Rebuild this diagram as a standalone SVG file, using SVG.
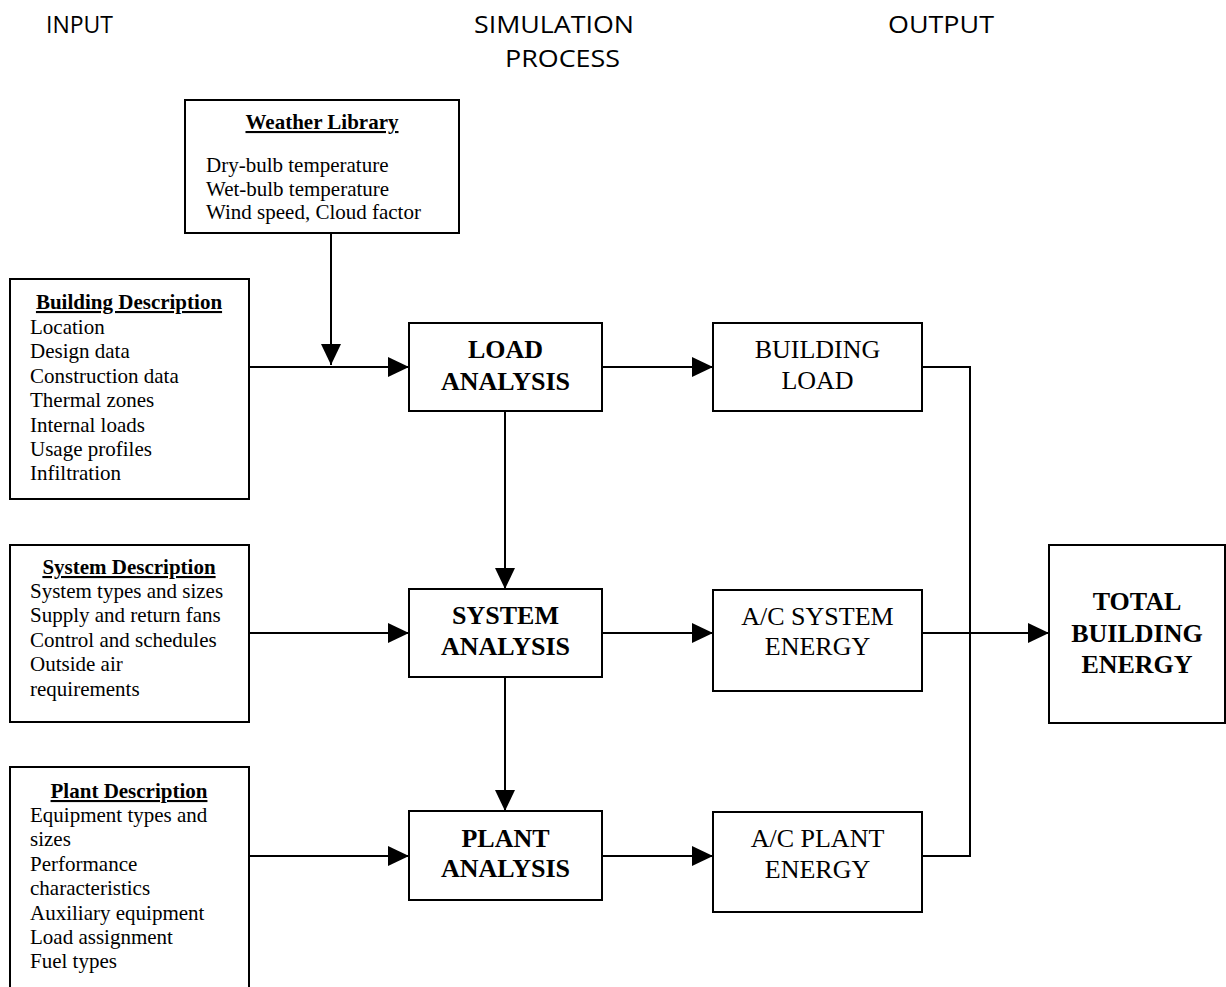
<svg xmlns="http://www.w3.org/2000/svg" width="1226" height="987" viewBox="0 0 1226 987">
<style>
.hdr{font-family:"Open Sans","Liberation Sans",sans-serif;font-size:24px;fill:#000}
.box{fill:#fff;stroke:#000;stroke-width:2}
.t{font-family:"Liberation Serif","Times New Roman",serif;font-size:21px;fill:#000}
.ttl{font-family:"Liberation Serif","Times New Roman",serif;font-size:21px;font-weight:bold;fill:#000;text-anchor:middle;text-decoration:underline}
.big{font-family:"Liberation Serif","Times New Roman",serif;font-size:26px;font-weight:bold;fill:#000;text-anchor:middle}
.reg{font-family:"Liberation Serif","Times New Roman",serif;font-size:26px;fill:#000;text-anchor:middle}
.c{fill:none;stroke:#000;stroke-width:2}
</style>
<defs>
<marker id="ah" markerUnits="userSpaceOnUse" markerWidth="21" markerHeight="20" refX="21" refY="10" orient="auto">
<path d="M0,0 L21,10 L0,20 Z" fill="#000"/>
</marker>
</defs>
<rect width="1226" height="987" fill="#fff"/>
<g id="headers">
<text class="hdr" x="46" y="33" textLength="67" lengthAdjust="spacingAndGlyphs">INPUT</text>
<text class="hdr" x="474" y="33" textLength="160" lengthAdjust="spacingAndGlyphs">SIMULATION</text>
<text class="hdr" x="505" y="67" textLength="115" lengthAdjust="spacingAndGlyphs">PROCESS</text>
<text class="hdr" x="888" y="33" textLength="106" lengthAdjust="spacingAndGlyphs">OUTPUT</text>
</g>
<g id="connectors">
<line class="c" x1="331" y1="234" x2="331" y2="365" marker-end="url(#ah)"/>
<line class="c" x1="249" y1="367" x2="409" y2="367" marker-end="url(#ah)"/>
<line class="c" x1="249" y1="633" x2="409" y2="633" marker-end="url(#ah)"/>
<line class="c" x1="249" y1="856" x2="409" y2="856" marker-end="url(#ah)"/>
<line class="c" x1="505" y1="411" x2="505" y2="589" marker-end="url(#ah)"/>
<line class="c" x1="505" y1="677" x2="505" y2="811" marker-end="url(#ah)"/>
<line class="c" x1="602" y1="367" x2="713" y2="367" marker-end="url(#ah)"/>
<line class="c" x1="602" y1="633" x2="713" y2="633" marker-end="url(#ah)"/>
<line class="c" x1="602" y1="856" x2="713" y2="856" marker-end="url(#ah)"/>
<polyline class="c" points="922,367 970,367 970,856 922,856"/>
<line class="c" x1="922" y1="633" x2="1049" y2="633" marker-end="url(#ah)"/>
</g>
<g id="weather">
<rect class="box" x="185" y="100" width="274" height="133"/>
<text class="ttl" x="322" y="129">Weather Library</text>
<text class="t" x="206" y="172">Dry-bulb temperature</text>
<text class="t" x="206" y="195.5">Wet-bulb temperature</text>
<text class="t" x="206" y="219">Wind speed, Cloud factor</text>
</g>
<g id="building-description">
<rect class="box" x="10" y="279" width="239" height="220"/>
<text class="ttl" x="129" y="309">Building Description</text>
<text class="t" x="30" y="334">Location</text>
<text class="t" x="30" y="358.4">Design data</text>
<text class="t" x="30" y="382.8">Construction data</text>
<text class="t" x="30" y="407.2">Thermal zones</text>
<text class="t" x="30" y="431.6">Internal loads</text>
<text class="t" x="30" y="456">Usage profiles</text>
<text class="t" x="30" y="480.4">Infiltration</text>
</g>
<g id="system-description">
<rect class="box" x="10" y="545" width="239" height="177"/>
<text class="ttl" x="129" y="574">System Description</text>
<text class="t" x="30" y="598">System types and sizes</text>
<text class="t" x="30" y="622.4">Supply and return fans</text>
<text class="t" x="30" y="646.8">Control and schedules</text>
<text class="t" x="30" y="671.2">Outside air</text>
<text class="t" x="30" y="695.6">requirements</text>
</g>
<g id="plant-description">
<rect class="box" x="10" y="767" width="239" height="240"/>
<text class="ttl" x="129" y="798">Plant Description</text>
<text class="t" x="30" y="822">Equipment types and</text>
<text class="t" x="30" y="846.4">sizes</text>
<text class="t" x="30" y="870.8">Performance</text>
<text class="t" x="30" y="895.2">characteristics</text>
<text class="t" x="30" y="919.6">Auxiliary equipment</text>
<text class="t" x="30" y="944">Load assignment</text>
<text class="t" x="30" y="968.4">Fuel types</text>
</g>
<g id="load-analysis">
<rect class="box" x="409" y="323" width="193" height="88"/>
<text class="big" x="505.5" y="358">LOAD</text>
<text class="big" x="505.5" y="390">ANALYSIS</text>
</g>
<g id="system-analysis">
<rect class="box" x="409" y="589" width="193" height="88"/>
<text class="big" x="505.5" y="624">SYSTEM</text>
<text class="big" x="505.5" y="655">ANALYSIS</text>
</g>
<g id="plant-analysis">
<rect class="box" x="409" y="811" width="193" height="89"/>
<text class="big" x="505.5" y="847">PLANT</text>
<text class="big" x="505.5" y="877">ANALYSIS</text>
</g>
<g id="building-load">
<rect class="box" x="713" y="323" width="209" height="88"/>
<text class="reg" x="817.5" y="358">BUILDING</text>
<text class="reg" x="817.5" y="389">LOAD</text>
</g>
<g id="ac-system-energy">
<rect class="box" x="713" y="590" width="209" height="101"/>
<text class="reg" x="817.5" y="625">A/C SYSTEM</text>
<text class="reg" x="817.5" y="655">ENERGY</text>
</g>
<g id="ac-plant-energy">
<rect class="box" x="713" y="812" width="209" height="100"/>
<text class="reg" x="817.5" y="847">A/C PLANT</text>
<text class="reg" x="817.5" y="878">ENERGY</text>
</g>
<g id="total-building-energy">
<rect class="box" x="1049" y="545" width="176" height="178"/>
<text class="big" x="1137" y="610">TOTAL</text>
<text class="big" x="1137" y="642">BUILDING</text>
<text class="big" x="1137" y="673">ENERGY</text>
</g>
</svg>
